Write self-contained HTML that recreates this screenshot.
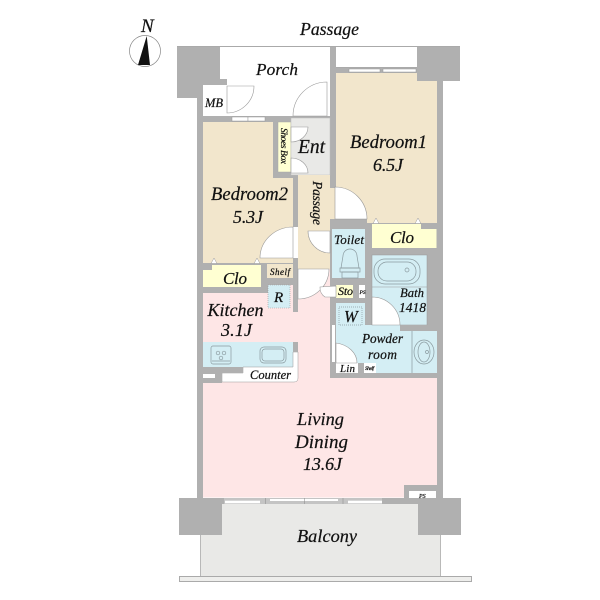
<!DOCTYPE html>
<html><head><meta charset="utf-8"><style>
html,body{margin:0;padding:0;background:#fff}
svg{display:block}
text{font-family:"Liberation Serif",serif;font-style:italic;fill:#111;stroke:#111;stroke-width:.22}
</style></head><body>
<svg width="600" height="600" viewBox="0 0 600 600" xmlns="http://www.w3.org/2000/svg">
<rect width="600" height="600" fill="#fff"/>
<!-- compass -->
<circle cx="145" cy="51" r="15.500" fill="#fff" stroke="#888" stroke-width="0.7"/>
<path d="M146.700 36 L138 65 L150 65 Z" fill="#111"/>
<!-- balcony -->
<rect x="200.500" y="500" width="240" height="77" fill="#e9e9e7" stroke="#aaa" stroke-width="0.8"/>
<rect x="179.500" y="576.500" width="292" height="5" fill="#eeeeec" stroke="#aaa"/>
<!-- outline -->
<path d="M177 46.500H460" stroke="#aaa" stroke-width="1" fill="none"/>
<path d="M336 67.500H417" stroke="#aaa" stroke-width="1" fill="none"/>
<!-- walls -->
<g fill="#b0b0b0">
<rect x="177" y="47" width="43" height="51"/>
<rect x="417" y="47" width="43" height="34"/>
<rect x="197" y="98" width="6" height="400"/>
<rect x="437" y="81" width="6" height="417"/>
<rect x="330" y="47" width="6" height="141"/>
<rect x="330" y="68" width="87" height="5"/>
<rect x="203" y="79" width="24" height="6"/>
<rect x="197" y="85" width="6" height="31"/>
<rect x="203" y="116" width="127" height="6"/>
<rect x="273" y="116" width="5" height="62"/>
<rect x="273" y="172" width="25" height="6"/>
<rect x="293" y="172" width="5" height="55"/>
<rect x="293" y="258" width="5" height="54"/>
<rect x="203" y="263" width="90" height="30"/>
<rect x="330" y="219" width="107" height="10"/>
<rect x="330" y="219" width="6" height="159"/>
<rect x="365" y="229" width="72" height="100"/>
<rect x="330" y="278" width="42" height="25"/>
<rect x="330" y="373" width="113" height="6"/>
<rect x="179" y="498" width="43" height="37"/>
<rect x="418" y="498" width="43" height="37"/>
<rect x="222" y="498" width="196" height="6"/>
</g>
<!-- porch -->
<rect x="220" y="47" width="110" height="32" fill="#fff"/>
<rect x="227" y="79" width="103" height="37" fill="#fff"/>
<!-- rooms -->
<rect x="203" y="122" width="70" height="141" fill="#f2e6cc"/>
<rect x="203" y="178" width="90" height="85" fill="#f2e6cc"/>
<rect x="278" y="122" width="13" height="50" fill="#ffffd2" stroke="#aaa" stroke-width=".5"/>
<rect x="291" y="118" width="39" height="57" fill="#e9e9e7" stroke="#bbb" stroke-width=".5"/>
<rect x="298" y="175" width="32" height="94" fill="#f2e6cc"/>
<rect x="336" y="73" width="101" height="146" fill="#f2e6cc"/>
<rect x="367" y="219" width="70" height="4" fill="#f2e6cc"/>
<rect x="417" y="73" width="20" height="8" fill="#b0b0b0"/>
<rect x="330" y="188" width="6" height="31" fill="#f2e6cc"/>
<path d="M372 224H421V229H436.500V248H372Z" fill="#ffffd2"/>
<rect x="332" y="229" width="33" height="49" fill="#d4eef4"/>
<path d="M212 265H261V287H203V270H212Z" fill="#ffffd2"/>
<rect x="267" y="264" width="26" height="14" fill="#f2e6cc"/>
<path d="M203 293H268V308H293V312H298V342H293V352H298V378H330V378H437V485H404V497.500H203Z" fill="#fee6e6"/>
<rect x="298" y="269" width="32" height="109" fill="#fee6e6"/>
<rect x="290" y="285" width="3" height="27" fill="#fee6e6"/>
<rect x="268" y="285" width="22" height="23" fill="#d4eef4" stroke="#999" stroke-width=".6" stroke-dasharray="1 1"/>
<rect x="203" y="342" width="90" height="25" fill="#d4eef4"/>
<path d="M243 367H293V352H298V378Q298 382 294 382H222V373H243Z" fill="#fff" stroke="#999" stroke-width=".5"/>
<g fill="#b0b0b0">
<rect x="293" y="342" width="5" height="10"/>
<rect x="203" y="367" width="19" height="16"/>
<rect x="222" y="367" width="21" height="6"/>
<rect x="404" y="485" width="33" height="13"/>
</g>
<rect x="203" y="374" width="12" height="4" fill="#fff"/>
<rect x="336" y="303" width="29" height="25" fill="#d4eef4"/>
<rect x="336" y="328" width="76" height="35" fill="#d4eef4"/>
<rect x="376" y="363" width="36" height="10" fill="#d4eef4"/>
<rect x="372" y="255" width="55" height="70" fill="#d4eef4" stroke="#999" stroke-width=".5"/>
<rect x="400" y="325" width="37" height="6" fill="#b0b0b0"/>
<rect x="412" y="331" width="25" height="42" fill="#d4eef4"/>
<rect x="365" y="325" width="35" height="3" fill="#d4eef4"/>
<path d="M372 287H427" stroke="#999" stroke-width=".5"/>
<rect x="336" y="285" width="17" height="13" fill="#ffffd2"/>
<rect x="359" y="285" width="6" height="13" fill="#fff"/>
<rect x="336" y="363" width="22" height="10" fill="#fff"/>
<rect x="364" y="363" width="12" height="10" fill="#fff"/>
<rect x="358" y="363" width="6" height="10" fill="#b0b0b0"/>
<rect x="332" y="325" width="3" height="37" fill="#fff"/>
<rect x="203" y="85" width="24" height="31" fill="#fff"/>
<!-- windows -->
<g fill="#fff" stroke="#999" stroke-width=".5">
<rect x="232" y="117" width="16" height="4"/><rect x="248" y="117" width="17" height="4"/>
<rect x="349" y="69" width="31" height="3"/><rect x="383" y="69" width="33" height="3"/>
</g>
<rect x="224" y="498" width="158" height="6" fill="#c4c4c4"/>
<g fill="#fff">
<rect x="225" y="500.700" width="35" height="2.600"/><rect x="270" y="499" width="34.500" height="2"/>
<rect x="305" y="499" width="33" height="2"/><rect x="348" y="500.700" width="34" height="2.600"/>
</g>
<path d="M265.700 498V504M304.700 498V504M343 498V504" stroke="#888" stroke-width=".5"/>
<rect x="409" y="491" width="27" height="7" fill="#fff"/>
<!-- doors -->
<g fill="#fff" stroke="#999" stroke-width=".6">
<path d="M227 86H254A27 27 0 0 1 227 113Z"/>
<path d="M327 116V82A34 34 0 0 0 293 116Z"/>
<path d="M291 127H308A17 15 0 0 1 291 142Z"/>
<path d="M291 173H308A17 15 0 0 0 291 158Z"/>
<path d="M335 187A32 32 0 0 1 367 219H335Z"/>
<path d="M293 227V258H260A33 31 0 0 1 293 227Z"/>
<path d="M330 231V253A22 22 0 0 1 308 231Z"/>
<path d="M298 269H329A31 30 0 0 1 298 299Z"/>
<path d="M336 286V297H325A11 11 0 0 1 320 287Z"/>
<path d="M372 297A28 28 0 0 1 400 325H372Z"/>
<path d="M336 343A25 20 0 0 1 357 363H336Z"/>
</g>
<!-- clo notches -->
<g fill="#fff" stroke="#999" stroke-width=".5">
<path d="M373 223.500L376 218L379 223.500Z"/><path d="M415 223.500L418 218L421 223.500Z"/>
<path d="M211 263.500L214 258L217 263.500Z"/><path d="M254 263.500L257 258L260 263.500Z"/>
</g>
<!-- fixtures -->
<g fill="none" stroke="#8a9a9f" stroke-width=".7">
<rect x="374" y="259" width="46" height="25" rx="11"/>
<rect x="378" y="262" width="38" height="19" rx="9"/>
<circle cx="407" cy="270" r="2"/>
<path d="M341 268L343 256A7 7 0 0 1 357 256L359 268Z"/>
<rect x="340" y="268" width="20" height="4"/>
<rect x="342" y="272" width="16" height="6"/>
<rect x="211" y="346" width="20" height="18" rx="2"/>
<circle cx="218" cy="353" r="1.800"/><circle cx="224" cy="353" r="1.800"/><circle cx="221" cy="358" r="1.800"/>
<path d="M212 361H230"/>
<rect x="260" y="347" width="26" height="16" rx="4"/>
<rect x="262" y="349" width="22" height="12" rx="3"/>
<ellipse cx="424" cy="352" rx="10" ry="12"/>
<ellipse cx="424" cy="352" rx="6" ry="10"/>
<circle cx="427" cy="352" r="1.500"/>
<path d="M412 331V373"/>
<rect x="339" y="307" width="23" height="18" stroke-dasharray="1 1"/>
</g>
<!-- labels -->
<text x="300" y="35" font-size="17.700" textLength="59">Passage</text>
<text x="256" y="75" font-size="17.200" textLength="42">Porch</text>
<text x="205" y="107" font-size="12.500">MB</text>
<text x="298" y="153" font-size="19.500">Ent</text>
<text transform="translate(281,128) rotate(90)" font-size="9.500" textLength="36">Shoes Box</text>
<text transform="translate(313,181) rotate(90)" font-size="13.500" textLength="44">Passage</text>
<text x="211" y="200" font-size="18.500" textLength="77">Bedroom2</text>
<text x="233" y="223" font-size="18" textLength="30">5.3J</text>
<text x="350" y="148" font-size="18.500" textLength="77">Bedroom1</text>
<text x="373" y="171" font-size="18" textLength="30">6.5J</text>
<text x="390" y="243" font-size="17" textLength="24">Clo</text>
<text x="223" y="284" font-size="17" textLength="24">Clo</text>
<text x="270" y="275" font-size="9" textLength="20">Shelf</text>
<text x="274" y="302" font-size="15">R</text>
<text x="207.500" y="316" font-size="18" textLength="56">Kitchen</text>
<text x="221" y="336" font-size="18" textLength="31">3.1J</text>
<text x="250" y="379" font-size="12.500" textLength="41">Counter</text>
<text x="334" y="244" font-size="13" textLength="30">Toilet</text>
<text x="338" y="295" font-size="12" textLength="15">Sto</text>
<text x="359.500" y="294" font-size="5.500">PS</text>
<text x="400" y="297" font-size="12.700" textLength="24">Bath</text>
<text x="399" y="312" font-size="13.500" textLength="27">1418</text>
<text x="344" y="322" font-size="16.500">W</text>
<text x="362" y="343" font-size="13.200" textLength="41">Powder</text>
<text x="368" y="359" font-size="13.500" textLength="29">room</text>
<text x="340" y="372" font-size="11" textLength="15">Lin</text>
<text x="365" y="370" font-size="5.500" textLength="9">Shelf</text>
<text x="297" y="425" font-size="18.400" textLength="47">Living</text>
<text x="295" y="448" font-size="19" textLength="53">Dining</text>
<text x="303" y="470" font-size="18" textLength="39">13.6J</text>
<text x="419" y="498" font-size="6">PS</text>
<text x="297" y="542" font-size="18.300" textLength="60">Balcony</text>
<text x="141" y="32" font-size="19">N</text>
</svg>
</body></html>
